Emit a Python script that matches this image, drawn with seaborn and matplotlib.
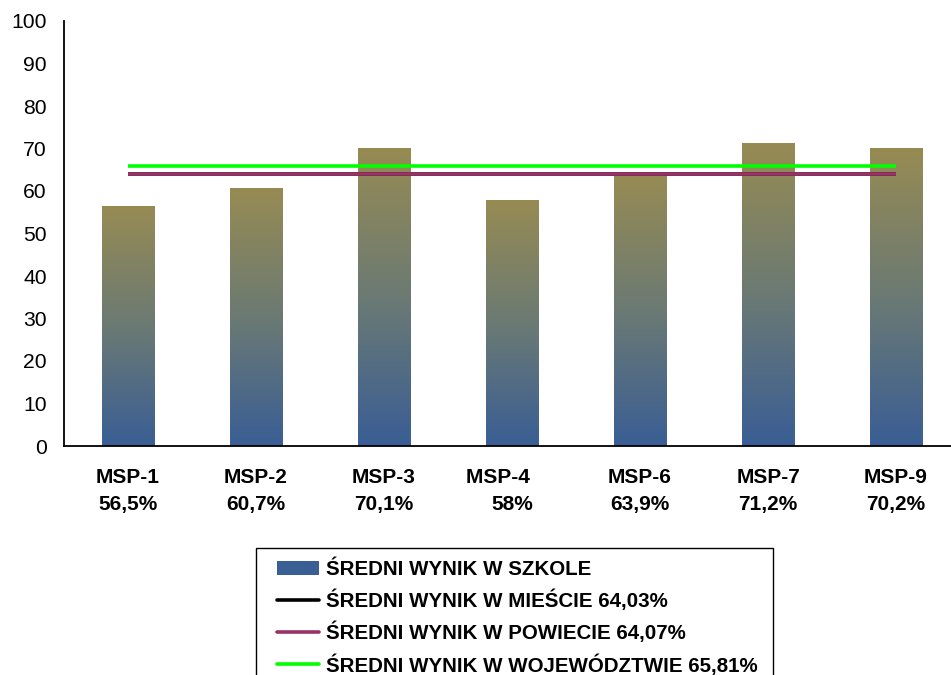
import numpy as np
import pandas as pd
import matplotlib
matplotlib.use("Agg")
import matplotlib.pyplot as plt
import seaborn as sns
from matplotlib.colors import LinearSegmentedColormap
from matplotlib.lines import Line2D
from matplotlib.patches import Patch, Rectangle

schools = ["MSP-1", "MSP-2", "MSP-3", "MSP-4     ", "MSP-6", "MSP-7", "MSP-9"]
school_scores = [56.5, 60.7, 70.1, 58.0, 63.9, 71.2, 70.2]
score_labels = ["56,5%", "60,7%", "70,1%", "58%", "63,9%", "71,2%", "70,2%"]
city_avg = 64.03
county_avg = 64.07
voiv_avg = 65.81
legend_labels = ["ŚREDNI WYNIK W SZKOLE",
                 "ŚREDNI WYNIK W MIEŚCIE 64,03%",
                 "ŚREDNI WYNIK W POWIECIE 64,07%",
                 "ŚREDNI WYNIK W WOJEWÓDZTWIE 65,81%"]

sns.set_style("white")
plt.rcParams['font.family'] = ['Liberation Sans', 'DejaVu Sans']
plt.rcParams['text.color'] = 'black'
plt.rcParams['xtick.color'] = 'black'
plt.rcParams['ytick.color'] = 'black'
plt.rcParams['axes.labelcolor'] = 'black'

W, H = 951, 675
fig = plt.figure(figsize=(W / 100, H / 100), dpi=100)
ax = fig.add_axes([64 / W, 1 - 446 / H, 896 / W, 425 / H])

df = pd.DataFrame({"school": schools, "score": school_scores})
sns.barplot(data=df, x="school", y="score", ax=ax, width=0.41,
            color="#3A5F94", saturation=1, errorbar=None)

# gradient fill for bars
cmap = LinearSegmentedColormap.from_list("g", ["#3A5E95", "#6B7A73", "#978B53"])
grad = np.linspace(0, 1, 256).reshape(-1, 1)
for p in ax.patches:
    x0, y0 = p.get_x(), p.get_y()
    w, h = p.get_width(), p.get_height()
    im = ax.imshow(grad, cmap=cmap, origin="lower", aspect="auto",
                   extent=[x0, x0 + w, y0, y0 + h], zorder=2)
    im.set_clip_path(p)
    p.set_facecolor("none")
    p.set_edgecolor("none")

n = len(schools)
ax.hlines(city_avg, 0, n - 1, color="black", lw=2.6, zorder=3)
ax.hlines(county_avg, 0, n - 1, color="#993366", lw=2.6, zorder=4)
ax.hlines(voiv_avg, 0, n - 1, color="#00FF00", lw=2.6, zorder=5)

ax.set_xlim(-0.5, n - 0.5)
ax.set_ylim(0, 100)
ax.set_yticks(np.arange(0, 101, 10))
ax.tick_params(axis="y", labelsize=15.2, direction="inout", length=9,
               width=1.2, pad=8, colors="black")
ax.set_xticks(range(n))
ax.set_xticklabels([f"{s}\n{l}" for s, l in zip(schools, score_labels)],
                   fontsize=15, fontweight="bold", linespacing=1.55)
ax.tick_params(axis="x", length=0, pad=16, colors="black")
ax.set_xticks(np.arange(-0.5, n, 1), minor=True)
ax.tick_params(axis="x", which="minor", direction="inout", length=9, width=1.2)
ax.set_xlabel("")
ax.set_ylabel("")
sns.despine(ax=ax, top=True, right=True)
for s in ["left", "bottom"]:
    ax.spines[s].set_color("black")
    ax.spines[s].set_linewidth(1.3)

# legend frame (drawn separately to match the reference box)
fig.patches.append(Rectangle((256 / W, -10 / H), (773 - 256) / W, (10 + 675 - 548) / H,
                             transform=fig.transFigure, facecolor="white",
                             edgecolor="black", linewidth=1.0, zorder=0))

handles = [Patch(facecolor="#3A5F94", edgecolor="none"),
           Line2D([], [], color="black", lw=2.6),
           Line2D([], [], color="#993366", lw=2.6),
           Line2D([], [], color="#00FF00", lw=2.6)]
leg = fig.legend(handles, legend_labels, loc="upper left",
                 bbox_to_anchor=(277 / W, 1 - 560 / H),
                 prop={"weight": "bold", "size": 14.8},
                 frameon=False,
                 handlelength=2.05, handleheight=0.7, handletextpad=0.34,
                 labelspacing=0.52, borderpad=0, borderaxespad=0)

fig.savefig("out.png", dpi=100)
